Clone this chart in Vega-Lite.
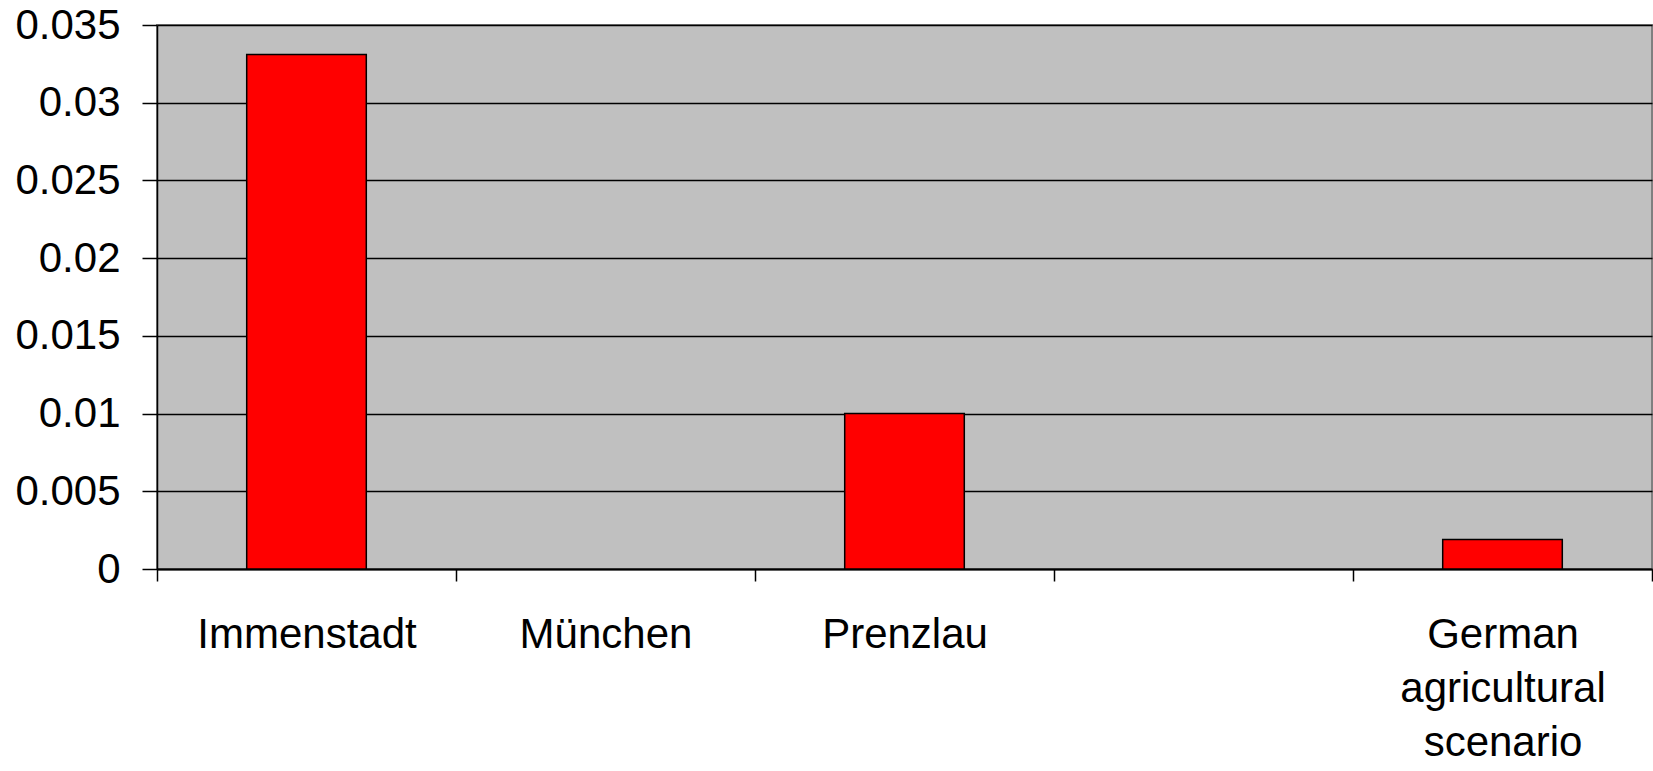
{
  "$schema": "https://vega.github.io/schema/vega-lite/v6.json",
  "autosize": "none",
  "padding": {"left": 157, "top": 25, "right": 1, "bottom": 202},
  "width": 1495,
  "height": 544,
  "background": "white",
  "config": {
    "view": {"fill": "#c0c0c0", "stroke": "#808080", "strokeWidth": 2},
    "font": "Liberation Sans"
  },
  "data": {
    "values": [
      {"site": "Immenstadt", "value": 0.0331},
      {"site": "Prenzlau", "value": 0.01},
      {"site": "German agricultural scenario", "value": 0.0019}
    ]
  },
  "mark": {"type": "bar", "fill": "#ff0000", "stroke": "black", "strokeWidth": 1.5, "width": {"band": 0.4}},
  "encoding": {
    "x": {
      "field": "site",
      "type": "nominal",
      "sort": null,
      "scale": {
        "domain": ["Immenstadt", "München", "Prenzlau", "", "German agricultural scenario"],
        "paddingInner": 0,
        "paddingOuter": 0
      },
      "axis": {
        "title": null,
        "labelAngle": 0,
        "labelFontSize": 42,
        "labelColor": "black",
        "labelLimit": 500,
        "labelPadding": 33,
        "labelLineHeight": 54,
        "labelExpr": "datum.label == 'German agricultural scenario' ? ['German', 'agricultural', 'scenario'] : datum.label",
        "tickBand": "extent",
        "tickSize": 12,
        "tickColor": "black",
        "tickWidth": 1.5,
        "domainColor": "black",
        "domainWidth": 2,
        "grid": false
      }
    },
    "y": {
      "field": "value",
      "type": "quantitative",
      "scale": {"domain": [0, 0.035], "nice": false},
      "axis": {
        "title": null,
        "values": [0, 0.005, 0.01, 0.015, 0.02, 0.025, 0.03, 0.035],
        "format": "~g",
        "labelFontSize": 42,
        "labelColor": "black",
        "labelPadding": 22,
        "tickSize": 15,
        "tickColor": "black",
        "tickWidth": 1.5,
        "domainColor": "black",
        "domainWidth": 1.5,
        "grid": true,
        "gridColor": "black",
        "gridWidth": 1.5,
        "gridOpacity": 1
      }
    }
  }
}
